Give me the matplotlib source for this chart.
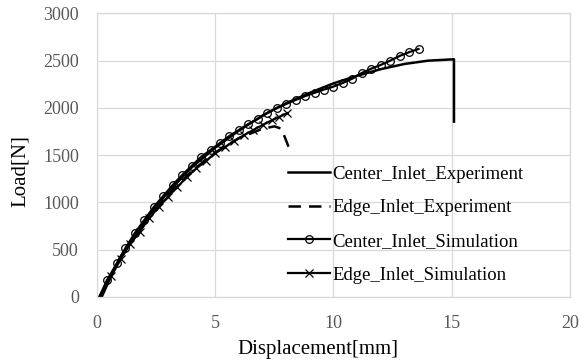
import matplotlib
matplotlib.use("Agg")
import matplotlib.pyplot as plt

plt.rcParams['font.family'] = ['Liberation Serif', 'DejaVu Serif']

# Center_Inlet_Experiment
ce_x = [0.1, 1, 2, 3, 4, 5, 6, 7, 8, 9, 10, 11, 12, 13, 14, 15.1, 15.1]
ce_y = [0, 430, 800, 1110, 1370, 1580, 1760, 1920, 2050, 2160, 2260, 2340, 2410, 2465, 2500, 2515, 1855]

# Edge_Inlet_Experiment
ee_x = [0.1, 1, 2, 3, 4, 5, 6, 7, 7.5, 7.8, 8.1]
ee_y = [0, 420, 780, 1080, 1330, 1530, 1680, 1780, 1805, 1780, 1590]

# Center_Inlet_Simulation
cs_x = [0.1, 0.42, 0.85, 1.2, 1.6, 2.0, 2.4, 2.8, 3.2, 3.6, 4.0, 4.4, 4.8, 5.2, 5.6, 6.0,
        6.4, 6.8, 7.2, 7.6, 8.0, 8.4, 8.8, 9.2, 9.6, 10.0, 10.4, 10.8, 11.2, 11.6, 12.0,
        12.4, 12.8, 13.2, 13.6]
cs_y = [0, 180, 360, 518, 677, 815, 952, 1069, 1185, 1290, 1386, 1481, 1555, 1630, 1704, 1767,
        1830, 1883, 1947, 2000, 2042, 2085, 2125, 2160, 2195, 2226, 2265, 2310, 2370, 2415, 2455,
        2500, 2550, 2590, 2624]

# Edge_Inlet_Simulation
es_x = [0.2, 0.6, 1.0, 1.4, 1.8, 2.2, 2.6, 3.0, 3.4, 3.8, 4.2, 4.6, 5.0, 5.4, 5.8, 6.2,
        6.6, 7.0, 7.4, 7.7, 8.05]
es_y = [0, 220, 400, 560, 690, 830, 950, 1060, 1165, 1270, 1360, 1440, 1520, 1585, 1650, 1710,
        1765, 1820, 1870, 1905, 1945]

fig = plt.figure(figsize=(5.85, 3.63), dpi=100)
ax = fig.add_axes([0.166, 0.182, 0.808, 0.781])

ax.plot(ce_x, ce_y, color='black', lw=1.8, label='Center_Inlet_Experiment')
ax.plot(ee_x, ee_y, color='black', lw=1.8, ls=(0, (5, 3.2)), label='Edge_Inlet_Experiment')
ax.plot(cs_x, cs_y, color='black', lw=1.6, marker='o', ms=5.5, mfc='none', mec='black',
        mew=0.9, markevery=list(range(1, len(cs_x))), label='Center_Inlet_Simulation')
ax.plot(es_x, es_y, color='black', lw=1.6, marker='x', ms=6, mec='black', mew=0.9,
        markevery=list(range(1, len(es_x))), label='Edge_Inlet_Simulation')

ax.set_xlim(0, 20)
ax.set_ylim(0, 3000)
ax.set_xticks([0, 5, 10, 15, 20])
ax.set_yticks(range(0, 3001, 500))
ax.grid(True, color='#d9d9d9', lw=0.9)
ax.set_axisbelow(True)
for s in ax.spines.values():
    s.set_color('#d9d9d9')
    s.set_linewidth(0.9)
ax.tick_params(length=0, labelsize=13, labelcolor='#595959', pad=13)

ax.set_xlabel('Displacement[mm]', fontsize=15)
ax.set_ylabel('Load[N]', fontsize=15)
ax.xaxis.set_label_coords(0.467, -0.152)
ax.yaxis.set_label_coords(-0.142, 0.443)

ax.legend(loc='upper left', bbox_to_anchor=(0.404, 0.463), frameon=False, fontsize=13.5,
          handlelength=2.25, handletextpad=0.1, labelspacing=0.88, borderpad=0,
          borderaxespad=0)

fig.savefig('out.png', dpi=100)
